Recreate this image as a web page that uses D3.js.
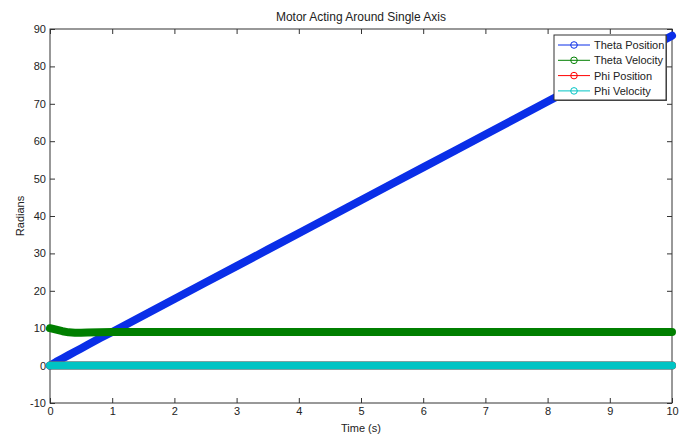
<!DOCTYPE html>
<html>
<head>
<meta charset="utf-8">
<script src="https://cdn.jsdelivr.net/npm/d3@7"></script>
<style>
  body { margin: 0; background: #fff; }
  text { font-family: "Liberation Sans", Arial, sans-serif; fill: #222; }
</style>
</head>
<body>
<div id="chart"></div>
<script>
// data
var times = [0, 0.1, 0.2, 0.3, 0.4, 0.5, 0.6, 0.8, 1, 1.5, 2, 2.5, 3, 3.5, 4, 4.5, 5,
             5.5, 6, 6.5, 7, 7.5, 8, 8.5, 9, 9.5, 10];
var thetaPosition = [0, 1.0, 1.9, 2.8, 3.7, 4.6, 5.5, 7.3, 9.0, 13.4, 17.8, 22.2, 26.6, 31.0,
                     35.4, 39.8, 44.2, 48.6, 53.0, 57.4, 61.8, 66.2, 70.6, 75.0, 79.4, 83.8, 88.2];
var thetaVelocity = [10, 9.6, 9.2, 8.9, 8.8, 8.8, 8.85, 8.9, 9.0, 9.0, 9.0, 9.0, 9.0, 9.0,
                     9.0, 9.0, 9.0, 9.0, 9.0, 9.0, 9.0, 9.0, 9.0, 9.0, 9.0, 9.0, 9.0];
var phiPosition = [0, 0, 0, 0, 0, 0, 0, 0, 0, 0, 0, 0, 0, 0, 0, 0, 0, 0, 0, 0, 0, 0, 0, 0, 0, 0, 0];
var phiVelocity = [0, 0, 0, 0, 0, 0, 0, 0, 0, 0, 0, 0, 0, 0, 0, 0, 0, 0, 0, 0, 0, 0, 0, 0, 0, 0, 0];

var seriesNames = ["Theta Position", "Theta Velocity", "Phi Position", "Phi Velocity"];
var seriesValues = [thetaPosition, thetaVelocity, phiPosition, phiVelocity];
var seriesColors = ["#0a2ee8", "#007f00", "#ff0000", "#00c4c4"];

var xTicks = [0, 1, 2, 3, 4, 5, 6, 7, 8, 9, 10];
var yTicks = [-10, 0, 10, 20, 30, 40, 50, 60, 70, 80, 90];

// svg area
var svgWidth = 688;
var svgHeight = 437;
var margin = { top: 29, right: 16, bottom: 34, left: 50 };
var chartWidth = svgWidth - margin.left - margin.right;
var chartHeight = svgHeight - margin.top - margin.bottom;

var svg = d3.select("#chart")
  .append("svg")
  .attr("width", svgWidth)
  .attr("height", svgHeight);

var chartGroup = svg.append("g")
  .attr("transform", `translate(${margin.left}, ${margin.top})`);

// scales
var xScale = d3.scaleLinear().domain([0, 10]).range([0, chartWidth]);
var yScale = d3.scaleLinear().domain([-10, 90]).range([chartHeight, 0]);

// box + inward ticks on all sides
var axisColor = "#333";
function styleAxis(g) {
  g.select(".domain").remove();
  g.selectAll("line").attr("stroke", axisColor);
  g.selectAll("text").attr("font-size", "11px").style("font-family", "'Liberation Sans', Arial, sans-serif").attr("fill", "#333");
}

// plain hyphen for negatives, like the original
var plain = d => String(d);

chartGroup.append("g")
  .attr("transform", `translate(0, ${chartHeight})`)
  .call(d3.axisBottom(xScale).tickValues(xTicks).tickFormat(plain).tickSize(-5).tickPadding(4))
  .call(styleAxis);

chartGroup.append("g")
  .call(d3.axisTop(xScale).tickValues(xTicks).tickSize(-5).tickFormat(""))
  .call(styleAxis);

chartGroup.append("g")
  .call(d3.axisLeft(yScale).tickValues(yTicks).tickFormat(plain).tickSize(-5).tickPadding(4))
  .call(styleAxis);

chartGroup.append("g")
  .attr("transform", `translate(${chartWidth}, 0)`)
  .call(d3.axisRight(yScale).tickValues(yTicks).tickSize(-5).tickFormat(""))
  .call(styleAxis);

chartGroup.append("rect")
  .attr("width", chartWidth)
  .attr("height", chartHeight)
  .attr("fill", "none")
  .attr("stroke", axisColor)
  .attr("stroke-width", 1);

// series: dense 'o' markers look like thick bands
var line = d3.line()
  .x((d, i) => xScale(times[i]))
  .y(d => yScale(d));

seriesValues.forEach(function(vals, k) {
  chartGroup.append("path")
    .datum(vals)
    .attr("d", line)
    .attr("fill", "none")
    .attr("stroke", seriesColors[k])
    .attr("stroke-width", 8)
    .attr("stroke-linecap", "round")
    .attr("stroke-linejoin", "round");
});

// title and axis labels
svg.append("text")
  .attr("x", margin.left + chartWidth / 2)
  .attr("y", 21)
  .attr("text-anchor", "middle")
  .attr("font-size", "12px")
  .text("Motor Acting Around Single Axis");

svg.append("text")
  .attr("x", margin.left + chartWidth / 2)
  .attr("y", 432)
  .attr("text-anchor", "middle")
  .attr("font-size", "11px")
  .text("Time (s)");

svg.append("text")
  .attr("transform", `translate(24, ${margin.top + chartHeight / 2}) rotate(-90)`)
  .attr("text-anchor", "middle")
  .attr("font-size", "11px")
  .text("Radians");

// legend
var legend = svg.append("g").attr("transform", "translate(554, 35)");
legend.append("rect")
  .attr("x", 1).attr("y", 1)
  .attr("width", 112).attr("height", 65)
  .attr("fill", "#555");
legend.append("rect")
  .attr("width", 112).attr("height", 65)
  .attr("fill", "#fff")
  .attr("stroke", "#333");

seriesNames.forEach(function(name, k) {
  var y = 10 + k * 15.3;
  legend.append("line")
    .attr("x1", 4).attr("x2", 36)
    .attr("y1", y).attr("y2", y)
    .attr("stroke", seriesColors[k]);
  legend.append("circle")
    .attr("cx", 20).attr("cy", y).attr("r", 3.3)
    .attr("fill", "none")
    .attr("stroke", seriesColors[k]);
  legend.append("text")
    .attr("x", 40).attr("y", y + 4)
    .attr("font-size", "11px")
    .text(name);
});
</script>
</body>
</html>
